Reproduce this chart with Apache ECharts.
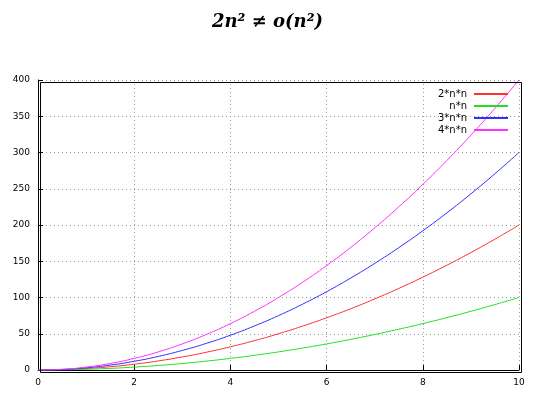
<!DOCTYPE html>
<html>
<head>
<meta charset="utf-8">
<script src="https://cdn.jsdelivr.net/npm/echarts@6/dist/echarts.min.js"></script>
<style>html,body{margin:0;padding:0;background:#fff;}#main{width:535px;height:401px;}</style>
</head>
<body>
<div id="main"></div>
<script>
const nValues = [0, 0.5, 1, 1.5, 2, 2.5, 3, 3.5, 4, 4.5, 5, 5.5, 6, 6.5, 7, 7.5, 8, 8.5, 9, 9.5, 10];
const twoNN = [0, 0.5, 2, 4.5, 8, 12.5, 18, 24.5, 32, 40.5, 50, 60.5, 72, 84.5, 98, 112.5, 128, 144.5, 162, 180.5, 200];
const nn = [0, 0.25, 1, 2.25, 4, 6.25, 9, 12.25, 16, 20.25, 25, 30.25, 36, 42.25, 49, 56.25, 64, 72.25, 81, 90.25, 100];
const threeNN = [0, 0.75, 3, 6.75, 12, 18.75, 27, 36.75, 48, 60.75, 75, 90.75, 108, 126.75, 147, 168.75, 192, 216.75, 243, 270.75, 300];
const fourNN = [0, 1, 4, 9, 16, 25, 36, 49, 64, 81, 100, 121, 144, 169, 196, 225, 256, 289, 324, 361, 400];

const seriesDefs = [
  { name: '2*n*n', data: twoNN, color: '#ff3030' },
  { name: 'n*n', data: nn, color: '#20e020' },
  { name: '3*n*n', data: threeNN, color: '#3030ff' },
  { name: '4*n*n', data: fourNN, color: '#ff30ff' }
];

const chart = echarts.init(document.getElementById('main'));
const gridLine = { show: true, lineStyle: { color: '#999', type: [1, 3], width: 1 } };
chart.setOption({
  animation: false,
  title: {
    text: '2n² ≠ o(n²)',
    left: 'center',
    top: 8,
    textStyle: { fontFamily: 'DejaVu Serif', fontStyle: 'italic', fontWeight: 'bold', fontSize: 18, color: '#000' }
  },
  legend: {
    orient: 'vertical',
    right: 22,
    top: 84,
    align: 'right',
    itemGap: 2,
    itemWidth: 34,
    itemHeight: 2,
    icon: 'rect',
    textStyle: { fontFamily: 'DejaVu Sans', fontSize: 10, color: '#000', padding: [0, 2, 0, 0] },
    data: seriesDefs.map(s => s.name)
  },
  grid: { left: 38, right: 16, top: 80, bottom: 31 },
  xAxis: {
    type: 'value', min: 0, max: 10, interval: 2,
    axisLine: { show: true, onZero: false, lineStyle: { color: '#000' } },
    axisTick: { inside: true, length: 5, lineStyle: { color: '#000' } },
    axisLabel: { fontFamily: 'DejaVu Sans', fontSize: 9, color: '#000' },
    splitLine: gridLine
  },
  yAxis: {
    type: 'value', min: 0, max: 400, interval: 50,
    axisLine: { show: true, onZero: false, lineStyle: { color: '#000' } },
    axisTick: { inside: true, length: 5, lineStyle: { color: '#000' } },
    axisLabel: { fontFamily: 'DejaVu Sans', fontSize: 9, color: '#000' },
    splitLine: gridLine
  },
  graphic: [{
    type: 'rect', left: 38, top: 80, shape: { width: 481, height: 290 },
    style: { fill: 'none', stroke: '#000', lineWidth: 1 }, silent: true, z: 100
  }],
  series: seriesDefs.map(s => ({
    name: s.name, type: 'line', smooth: true, showSymbol: false,
    data: nValues.map((n, i) => [n, s.data[i]]),
    lineStyle: { color: s.color, width: 1 }, itemStyle: { color: s.color }
  }))
});
</script>
</body>
</html>
